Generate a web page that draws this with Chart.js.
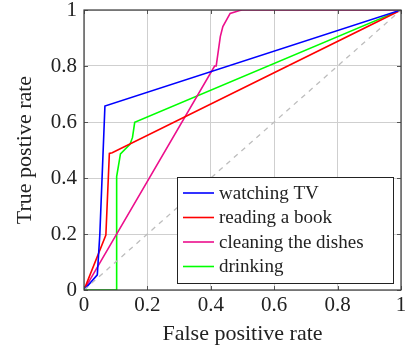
<!DOCTYPE html>
<html>
<head>
<meta charset="utf-8">
<script src="https://cdn.jsdelivr.net/npm/chart.js@4"></script>
<style>
  html, body { margin: 0; padding: 0; background: #fff; }
  #wrap { width: 405px; height: 351px; }
</style>
</head>
<body>
<div id="wrap"><canvas id="grafico" width="405" height="351"></canvas></div>
<script>
// ROC curves, points
const tvX = [0, 0.042, 0.050, 0.066, 1];
const tvY = [0, 0.054, 0.20, 0.657, 1];

const bookX = [0, 0.069, 0.080, 0.089, 1];
const bookY = [0, 0.196, 0.488, 0.490, 1];

const dishesX = [0, 0.412, 0.417, 0.430, 0.438, 0.461, 0.491, 0.5, 1];
const dishesY = [0, 0.800, 0.800, 0.905, 0.941, 0.988, 0.998, 1, 1];

const drinkX = [0, 0.103, 0.103, 0.115, 0.145, 0.153, 0.160, 1];
const drinkY = [0, 0, 0.405, 0.486, 0.520, 0.545, 0.599, 1];

const chanceX = [0, 1];
const chanceY = [0, 1];

const tickLabels = ['0', '0.2', '0.4', '0.6', '0.8', '1'];
const nomes = ['watching TV', 'reading a book', 'cleaning the dishes', 'drinking'];
const cores = ['#0000ff', '#ff0000', '#ec0f8c', '#00ff00'];

const fonte = '"Liberation Serif", "DejaVu Serif", serif';
Chart.defaults.font.family = fonte;

function pontos(xs, ys) {
  return xs.map((x, i) => ({ x: x, y: ys[i] }));
}

// moldura + marcas de escala para dentro, estilo pgfplots
const moldura = {
  id: 'moldura',
  afterDraw(chart) {
    const c = chart.ctx;
    const a = chart.chartArea;
    const sx = chart.scales.x, sy = chart.scales.y;
    c.save();
    c.strokeStyle = '#555';
    c.lineWidth = 1;
    c.beginPath();
    for (let i = 0; i < tickLabels.length; i++) {
      const v = i / (tickLabels.length - 1);
      const px = Math.round(sx.getPixelForValue(v)) + 0.5;
      const py = Math.round(sy.getPixelForValue(v)) + 0.5;
      c.moveTo(px, a.bottom); c.lineTo(px, a.bottom - 4);
      c.moveTo(px, a.top); c.lineTo(px, a.top + 4);
      c.moveTo(a.left, py); c.lineTo(a.left + 4, py);
      c.moveTo(a.right, py); c.lineTo(a.right - 4, py);
    }
    c.stroke();
    c.strokeStyle = '#3a3a3a';
    c.lineWidth = 1.2;
    c.strokeRect(a.left, a.top, a.right - a.left, a.bottom - a.top);
    c.restore();
  }
};

// legenda desenhada a mao, canto inferior direito
const legenda = {
  id: 'legenda',
  afterDraw(chart) {
    const c = chart.ctx;
    const a = chart.chartArea;
    const x0 = a.right - 224, y0 = a.bottom - 113;
    const w = 216, h = 106;
    c.save();
    c.fillStyle = '#fff';
    c.fillRect(x0, y0, w, h);
    c.strokeStyle = '#222';
    c.lineWidth = 1;
    c.strokeRect(x0 + 0.5, y0 + 0.5, w, h);
    c.font = '19px ' + fonte;
    c.textBaseline = 'middle';
    c.fillStyle = '#222';
    for (let i = 0; i < nomes.length; i++) {
      const y = y0 + 16 + i * 24.5;
      c.strokeStyle = cores[i];
      c.lineWidth = 1.6;
      c.beginPath();
      c.moveTo(x0 + 6, y); c.lineTo(x0 + 37, y);
      c.stroke();
      c.fillText(nomes[i], x0 + 42, y + 1);
    }
    c.restore();
  }
};

const series = [
  { label: nomes[0], data: pontos(tvX, tvY), borderColor: cores[0] },
  { label: nomes[1], data: pontos(bookX, bookY), borderColor: cores[1] },
  { label: nomes[2], data: pontos(dishesX, dishesY), borderColor: cores[2] },
  { label: nomes[3], data: pontos(drinkX, drinkY), borderColor: cores[3] }
].map(d => Object.assign(d, { borderWidth: 1.6, pointRadius: 0, fill: false, tension: 0 }));

series.unshift({
  label: 'chance',
  data: pontos(chanceX, chanceY),
  borderColor: '#bdbdbd',
  borderWidth: 1.3,
  borderDash: [5, 5],
  pointRadius: 0,
  fill: false
});

const ctx = document.getElementById('grafico').getContext('2d');

new Chart(ctx, {
  type: 'line',
  data: { datasets: series },
  options: {
    responsive: false,
    animation: false,
    layout: { padding: { top: 10, right: 4, left: 8, bottom: 0 } },
    plugins: {
      legend: { display: false },
      tooltip: { enabled: false }
    },
    scales: {
      x: {
        type: 'linear',
        min: 0, max: 1,
        afterFit(s) {
          s.height = 61;
          s.paddingLeft = 0; s.paddingRight = 0;
        },
        ticks: {
          stepSize: 0.2,
          maxRotation: 0,
          padding: 3,
          color: '#222',
          font: { family: fonte, size: 21 },
          callback: (v, i) => tickLabels[i]
        },
        grid: { color: '#cfcfcf', lineWidth: 1, drawTicks: false },
        border: { display: false },
        title: {
          display: true,
          text: 'False positive rate',
          color: '#222',
          font: { family: fonte, size: 22 },
          padding: { top: 6 }
        }
      },
      y: {
        type: 'linear',
        min: 0, max: 1,
        afterFit(s) {
          s.width = 76;
          s.paddingTop = 0; s.paddingBottom = 0;
        },
        ticks: {
          stepSize: 0.2,
          padding: 7,
          color: '#222',
          font: { family: fonte, size: 21 },
          callback: (v, i) => tickLabels[i]
        },
        grid: { color: '#cfcfcf', lineWidth: 1, drawTicks: false },
        border: { display: false },
        title: {
          display: true,
          text: 'True postive rate',
          color: '#222',
          font: { family: fonte, size: 22 },
          padding: { bottom: 4 }
        }
      }
    }
  },
  plugins: [moldura, legenda]
});
</script>
</body>
</html>
